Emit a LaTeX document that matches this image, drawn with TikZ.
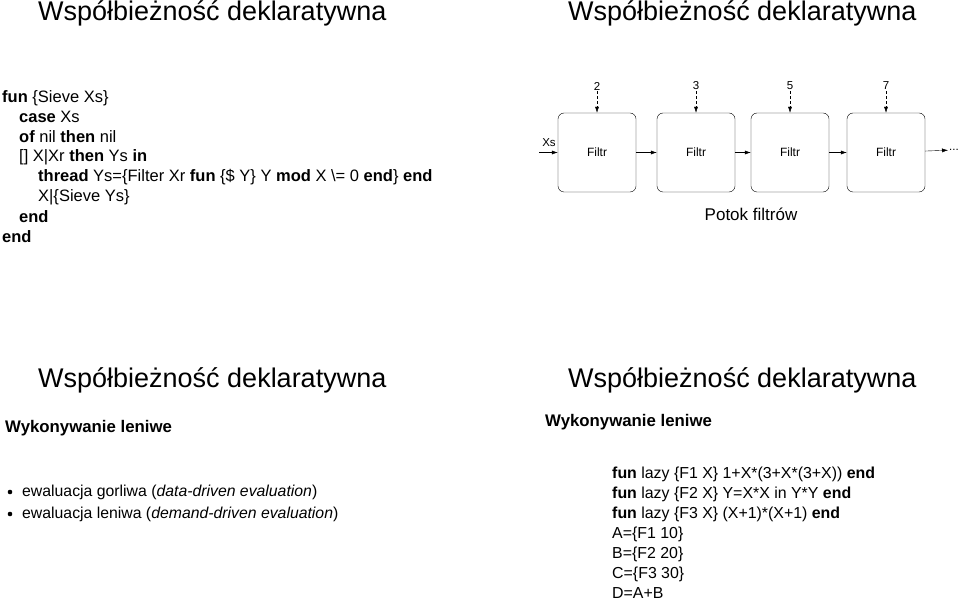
\documentclass[tikz,border=0pt]{standalone}
\usepackage{fontspec}
\setmainfont{Liberation Sans}
\usetikzlibrary{arrows.meta}
\tikzset{
  slidetitle/.style={anchor=west,inner sep=0pt,font=\fontsize{27}{30}\selectfont},
  codeline/.style={anchor=west,inner sep=0pt,font=\fontsize{16.5}{19}\selectfont},
  filterbox/.style={draw,rounded corners=6pt,minimum width=78pt,minimum height=79pt,inner sep=0pt,font=\fontsize{12}{14}\selectfont},
  lbl/.style={inner sep=1pt,font=\fontsize{11.5}{13}\selectfont},
  flow/.style={-{Latex[length=6pt,width=4pt]}},
}
\begin{document}
\begin{tikzpicture}[x=1pt,y=-1pt]
\useasboundingbox (0,0) rectangle (960,601);
% titles
\node[slidetitle] (t1) at (38,13) {Współbieżność deklaratywna};
\node[slidetitle] (t2) at (568,13) {Współbieżność deklaratywna};
\node[slidetitle] (t3) at (38,380) {Współbieżność deklaratywna};
\node[slidetitle] (t4) at (568,380) {Współbieżność deklaratywna};
% sieve code
\node[codeline] (c1) at (2,98) {\textbf{fun} \{Sieve Xs\}};
\node[codeline] (c2) at (19,117) {\textbf{case} Xs};
\node[codeline] (c3) at (19,137) {\textbf{of} nil \textbf{then} nil};
\node[codeline] (c4) at (19,157) {[] X|Xr \textbf{then} Ys \textbf{in}};
\node[codeline] (c5) at (38,177) {\textbf{thread} Ys=\{Filter Xr \textbf{fun} \{\$ Y\} Y \textbf{mod} X \textbackslash= 0 \textbf{end}\} \textbf{end}};
\node[codeline] (c6) at (38,197) {X|\{Sieve Ys\}};
\node[codeline] (c7) at (19,217) {\textbf{end}};
\node[codeline] (c8) at (2,237) {\textbf{end}};
% filter pipeline
\foreach \i/\x/\p in {1/597/2,2/696/3,3/790/5,4/886/7}{
  \node[filterbox] (f\i) at (\x,152.5) {Filtr};
  \node[lbl] (p\i) at (\x,86) {\p};
  \draw[flow,densely dashed] (p\i) -- (f\i);
}
\coordinate (in) at (539,152.5);
\node[lbl,anchor=south] (xs) at (549,148) {Xs};
\node[lbl] (dots) at (954,150) {...};
\draw[flow] (in) -- (f1);
\draw[flow] (f1) -- (f2);
\draw[flow] (f2) -- (f3);
\draw[flow] (f3) -- (f4);
\draw[flow] (f4) -- (dots);
\node[lbl,font=\fontsize{17}{19}\selectfont] (cap) at (751,214) {Potok filtrów};
% lazy evaluation, left
\node[codeline,font=\bfseries\fontsize{16.8}{19}\selectfont] (w1) at (5,428) {Wykonywanie leniwe};
\node[codeline,font=\fontsize{15.8}{18}\selectfont] (b1) at (22,492) {ewaluacja gorliwa (\textit{data-driven evaluation})};
\node[codeline,font=\fontsize{15.8}{18}\selectfont] (b2) at (22,514) {ewaluacja leniwa (\textit{demand-driven evaluation})};
\fill (10,492) circle (2.3pt) (10,514) circle (2.3pt);
% lazy evaluation, right
\node[codeline,font=\bfseries\fontsize{16.8}{19}\selectfont] (w2) at (545,422) {Wykonywanie leniwe};
\node[codeline,font=\fontsize{15.9}{18}\selectfont] (r1) at (612,474) {\textbf{fun} lazy \{F1 X\} 1+X*(3+X*(3+X)) \textbf{end}};
\node[codeline,font=\fontsize{15.9}{18}\selectfont] (r2) at (612,494) {\textbf{fun} lazy \{F2 X\} Y=X*X in Y*Y \textbf{end}};
\node[codeline,font=\fontsize{15.9}{18}\selectfont] (r3) at (612,514) {\textbf{fun} lazy \{F3 X\} (X+1)*(X+1) \textbf{end}};
\node[codeline,font=\fontsize{15.9}{18}\selectfont] (r4) at (612,534) {A=\{F1 10\}};
\node[codeline,font=\fontsize{15.9}{18}\selectfont] (r5) at (612,554) {B=\{F2 20\}};
\node[codeline,font=\fontsize{15.9}{18}\selectfont] (r6) at (612,574) {C=\{F3 30\}};
\node[codeline,font=\fontsize{15.9}{18}\selectfont] (r7) at (612,593) {D=A+B};
\end{tikzpicture}
\end{document}
